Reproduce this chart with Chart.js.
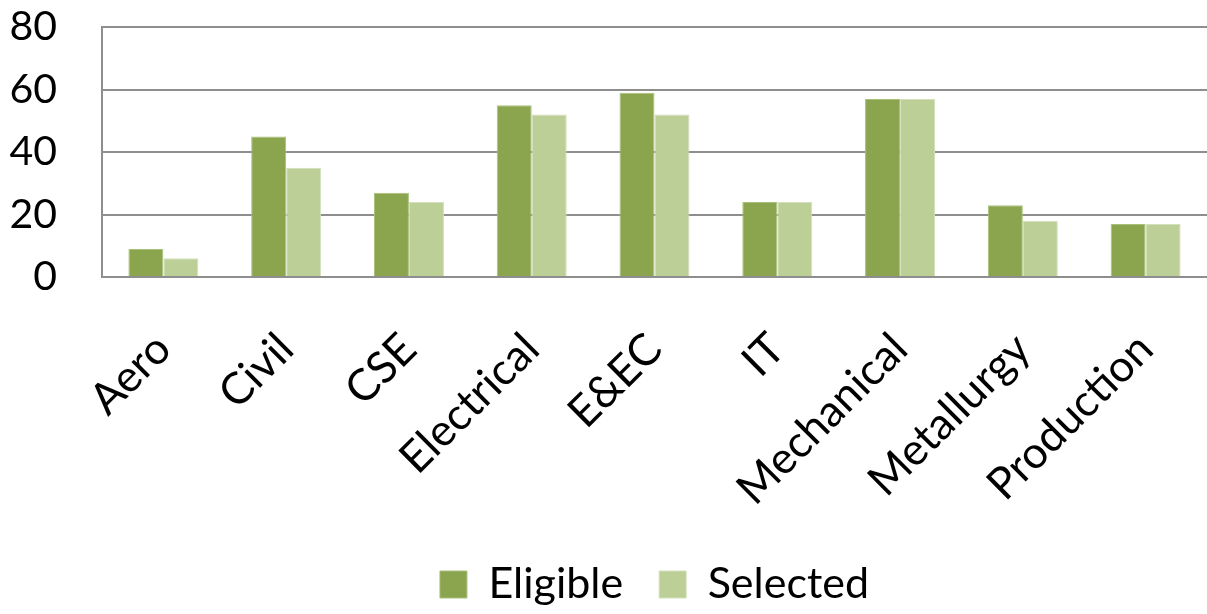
<!DOCTYPE html>
<html>
<head>
<meta charset="utf-8">
<script src="https://cdn.jsdelivr.net/npm/chart.js@4.4.1/dist/chart.umd.min.js"></script>
<style>
  html, body { margin: 0; padding: 0; background: #fff; }
  #wrap { width: 1207px; height: 614px; }
</style>
</head>
<body>
<div id="wrap"><canvas id="chart" width="1207" height="614"></canvas></div>
<script>
const categories = ['Aero', 'Civil', 'CSE', 'Electrical', 'E&EC', 'IT', 'Mechanical', 'Metallurgy', 'Production'];
const eligible = [9, 45, 27, 55, 59, 24, 57, 23, 17];
const selected = [6, 35, 24, 52, 52, 24, 57, 18, 17];
const yTicks = [0, 20, 40, 60, 80];

const FONT = 'Lato, "Open Sans", sans-serif';
const gridGray = '#8e8e8e';

const ctx = document.getElementById('chart');

new Chart(ctx, {
    type: 'bar',
    data: {
        labels: categories,
        datasets: [
            {
                label: 'Eligible',
                data: eligible,
                backgroundColor: '#8aa54e',
                borderColor: '#a9c07a',
                borderWidth: 1
            },
            {
                label: 'Selected',
                data: selected,
                backgroundColor: '#bbcf97',
                borderColor: '#d3e0bb',
                borderWidth: 1
            }
        ]
    },
    options: {
        responsive: false,
        animation: false,
        layout: { padding: { top: 27, right: 0, left: 0, bottom: -2 } },
        datasets: {
            bar: { categoryPercentage: 0.57, barPercentage: 1.0 }
        },
        plugins: {
            legend: {
                position: 'bottom',
                fullSize: false,
                labels: {
                    font: { family: FONT, size: 43 },
                    color: '#000',
                    boxWidth: 27,
                    boxHeight: 27,
                    padding: 36
                }
            },
            tooltip: { enabled: false }
        },
        scales: {
            x: {
                grid: { display: false, drawTicks: false },
                border: { display: true, color: gridGray, width: 2 },
                ticks: {
                    font: { family: FONT, size: 44 },
                    color: '#000',
                    minRotation: 45,
                    maxRotation: 45,
                    autoSkip: false,
                    padding: 46
                },
                afterFit: scale => {
                    // keep the plot bottom at the 0 line of the original
                    scale.height = 250;
                    scale.paddingLeft = 0;
                    scale.paddingRight = 0;
                }
            },
            y: {
                min: 0,
                max: 80,
                afterBuildTicks: scale => { scale.ticks = yTicks.map(v => ({ value: v })); },
                grid: { color: gridGray, lineWidth: 2, drawTicks: false },
                border: { display: true, color: gridGray, width: 2 },
                ticks: {
                    font: { family: FONT, size: 41 },
                    color: '#000',
                    autoSkip: false,
                    padding: 45
                },
                afterFit: scale => {
                    scale.width = 102;
                    scale.paddingTop = 0;
                    scale.paddingBottom = 0;
                }
            }
        }
    }
});
</script>
</body>
</html>
